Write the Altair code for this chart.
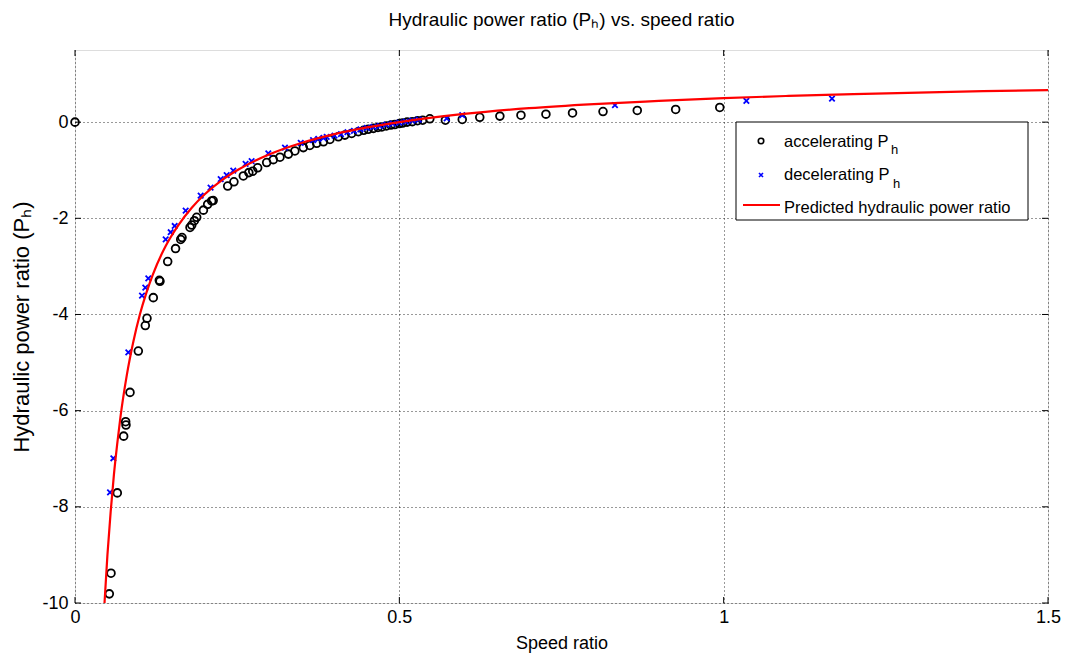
import altair as alt
import pandas as pd

FONT = "Liberation Sans, Arial, Helvetica, sans-serif"

# ---- data ----
acc_x = [0.0, 0.0529, 0.0555, 0.0652, 0.0750, 0.0781, 0.0786, 0.0848, 0.0976, 0.1084,
         0.111, 0.1207, 0.130, 0.131, 0.1429, 0.155, 0.163, 0.165, 0.1773, 0.180,
         0.184, 0.1876, 0.198, 0.2045, 0.2107, 0.213, 0.2354, 0.245, 0.2595, 0.268,
         0.274, 0.2816, 0.2955, 0.3057, 0.316, 0.329, 0.339, 0.352, 0.362, 0.3726,
         0.383, 0.393, 0.406, 0.416, 0.4265, 0.4368, 0.445, 0.452, 0.46, 0.467,
         0.473, 0.48, 0.487, 0.493, 0.50, 0.505, 0.512, 0.52, 0.528, 0.536,
         0.547, 0.571, 0.597, 0.624, 0.655, 0.6875, 0.726, 0.767, 0.814, 0.8668,
         0.926, 0.994]
acc_y = [0.0, -9.81, -9.38, -7.71, -6.53, -6.23, -6.30, -5.62, -4.76, -4.23,
         -4.08, -3.65, -3.29, -3.31, -2.90, -2.63, -2.44, -2.40, -2.19, -2.14,
         -2.05, -1.98, -1.83, -1.71, -1.64, -1.63, -1.33, -1.24, -1.12, -1.05,
         -1.02, -0.95, -0.84, -0.78, -0.73, -0.665, -0.60, -0.53, -0.485, -0.44,
         -0.41, -0.36, -0.305, -0.27, -0.235, -0.20, -0.17, -0.15, -0.13, -0.11,
         -0.10, -0.08, -0.06, -0.05, -0.03, -0.02, 0.0, 0.01, 0.03, 0.04,
         0.07, 0.04, 0.055, 0.10, 0.125, 0.145, 0.166, 0.19, 0.22, 0.243,
         0.264, 0.305]

dec_x = [0.054, 0.0591, 0.0822, 0.1033, 0.1084, 0.113, 0.1398, 0.1475, 0.1537, 0.1706,
         0.1937, 0.209, 0.2246, 0.2338, 0.244, 0.263, 0.2723, 0.298, 0.3237, 0.348,
         0.367, 0.375, 0.383, 0.388, 0.40, 0.41, 0.42, 0.43, 0.44, 0.45,
         0.46, 0.47, 0.48, 0.49, 0.50, 0.51, 0.52, 0.53, 0.573, 0.597,
         0.8324, 1.035, 1.167]
dec_y = [-7.70, -6.99, -4.79, -3.61, -3.44, -3.25, -2.44, -2.29, -2.16, -1.84,
         -1.53, -1.36, -1.185, -1.10, -1.01, -0.87, -0.81, -0.65, -0.53, -0.43,
         -0.374, -0.35, -0.33, -0.305, -0.28, -0.25, -0.21, -0.18, -0.15, -0.12,
         -0.10, -0.08, -0.05, -0.03, -0.01, 0.01, 0.03, 0.05, 0.077, 0.145,
         0.353, 0.44, 0.49]

pred_x = [0.0455, 0.05, 0.055, 0.06, 0.065, 0.07, 0.08, 0.09, 0.10, 0.11,
          0.12, 0.14, 0.16, 0.18, 0.20, 0.225, 0.25, 0.30, 0.35, 0.40,
          0.45, 0.50, 0.60, 0.70, 0.80, 0.90, 1.00, 1.10, 1.20, 1.30,
          1.40, 1.50]
pred_y = [-10.0, -9.0, -8.1, -7.33, -6.7, -6.14, -5.25, -4.56, -4.0, -3.55,
          -3.17, -2.57, -2.13, -1.78, -1.5, -1.22, -1.0, -0.67, -0.43, -0.25,
          -0.11, 0.0, 0.17, 0.29, 0.375, 0.44, 0.5, 0.545, 0.583, 0.615,
          0.643, 0.667]

x_ticks = [0, 0.5, 1, 1.5]
y_ticks = [-10, -8, -6, -4, -2, 0]

W, H = 973, 553

acc = pd.DataFrame({"x": acc_x, "y": acc_y})
dec = pd.DataFrame({"x": dec_x, "y": dec_y})
pred = pd.DataFrame({"x": pred_x, "y": pred_y})
xt = pd.DataFrame({"v": x_ticks})
yt = pd.DataFrame({"v": y_ticks})
one = pd.DataFrame({"a": [0]})

xs = alt.Scale(domain=[0, 1.5], nice=False, zero=False)
ys = alt.Scale(domain=[-10, 1.5], nice=False, zero=False)

LBL = "'' + datum.value"

xaxis = alt.Axis(values=x_ticks, labelExpr=LBL, grid=True, gridDash=[1, 3], gridColor="#000",
                 gridOpacity=0.8, tickSize=0, domain=False, labelFont=FONT, labelFontSize=18,
                 labelPadding=5, labelColor="#000", title="Speed ratio", titleFont=FONT,
                 titleFontSize=18, titleFontWeight="normal", titleColor="#000", titlePadding=8,
                 labelFlush=False)
yaxis = alt.Axis(values=y_ticks, labelExpr=LBL, grid=True, gridDash=[1, 3], gridColor="#000",
                 gridOpacity=0.8, tickSize=0, domain=False, labelFont=FONT, labelFontSize=18,
                 labelPadding=7, labelColor="#000", title="Hydraulic power ratio (Pₕ)",
                 titleFont=FONT, titleFontSize=22, titleFontWeight="normal", titleColor="#000",
                 titlePadding=8, labelFlush=False)

base_pts = alt.Chart(acc).mark_point(shape="circle", filled=False, color="#000", opacity=1,
                                     strokeWidth=1.8, size=60).encode(
    x=alt.X("x:Q", scale=xs, axis=xaxis),
    y=alt.Y("y:Q", scale=ys, axis=yaxis),
)

cross_path = "M-1,-1L1,1M-1,1L1,-1"
dec_pts = alt.Chart(dec).mark_point(shape=cross_path, filled=False, color="#0000ff", opacity=1,
                                    strokeWidth=1.8, size=30).encode(
    x=alt.X("x:Q", scale=xs), y=alt.Y("y:Q", scale=ys))

line = alt.Chart(pred).mark_line(color="#ff0000", strokeWidth=2.2, interpolate="monotone",
                                 clip=True).encode(
    x=alt.X("x:Q", scale=xs), y=alt.Y("y:Q", scale=ys))

# inward tick marks on all four sides
tk_left = alt.Chart(yt).mark_rule(color="#000", strokeWidth=1).encode(
    y=alt.Y("v:Q", scale=ys), x=alt.value(0), x2=alt.value(6))
tk_right = alt.Chart(yt).mark_rule(color="#000", strokeWidth=1).encode(
    y=alt.Y("v:Q", scale=ys), x=alt.value(W - 6), x2=alt.value(W))
tk_bot = alt.Chart(xt).mark_rule(color="#000", strokeWidth=1).encode(
    x=alt.X("v:Q", scale=xs), y=alt.value(H - 6), y2=alt.value(H))
tk_top = alt.Chart(xt).mark_rule(color="#000", strokeWidth=1).encode(
    x=alt.X("v:Q", scale=xs), y=alt.value(0), y2=alt.value(6))

# legend
lg_box = alt.Chart(one).mark_rect(fill="#fff", stroke="#000", strokeWidth=1).encode(
    x=alt.value(661), x2=alt.value(953), y=alt.value(72), y2=alt.value(170))
lg_c = alt.Chart(one).mark_point(shape="circle", filled=False, color="#000", opacity=1,
                                 strokeWidth=1.6, size=30).encode(
    x=alt.value(686), y=alt.value(91))
lg_x = alt.Chart(one).mark_point(shape=cross_path, filled=False, color="#0000ff", opacity=1,
                                 strokeWidth=1.6, size=16).encode(
    x=alt.value(686), y=alt.value(125))
lg_l = alt.Chart(one).mark_rule(color="#ff0000", strokeWidth=2.2).encode(
    x=alt.value(668), x2=alt.value(705), y=alt.value(155))


def txt(s, x, y, size=16.5):
    return alt.Chart(one).mark_text(text=s, align="left", baseline="alphabetic",
                                    font=FONT, fontSize=size, color="#000").encode(
        x=alt.value(x), y=alt.value(y))


legend = [lg_box, lg_c, lg_x, lg_l,
          txt("accelerating P", 709, 97), txt("h", 816, 104, 13),
          txt("decelerating P", 709, 130), txt("h", 818, 138, 13),
          txt("Predicted hydraulic power ratio", 709, 163)]

chart = alt.layer(base_pts, dec_pts, line, tk_left, tk_right, tk_bot, tk_top, *legend).properties(
    width=W, height=H,
    title=alt.Title("Hydraulic power ratio (Pₕ) vs. speed ratio", font=FONT, fontSize=19,
                    fontWeight="normal", color="#000", anchor="middle", offset=20),
    autosize=alt.AutoSizeParams(type="none"),
    padding={"left": 75, "top": 50, "right": 22, "bottom": 53},
).configure_view(stroke="#000", strokeWidth=1).configure(background="#fff")

chart.save("out.html", embed_options={"renderer": "svg", "actions": False})
